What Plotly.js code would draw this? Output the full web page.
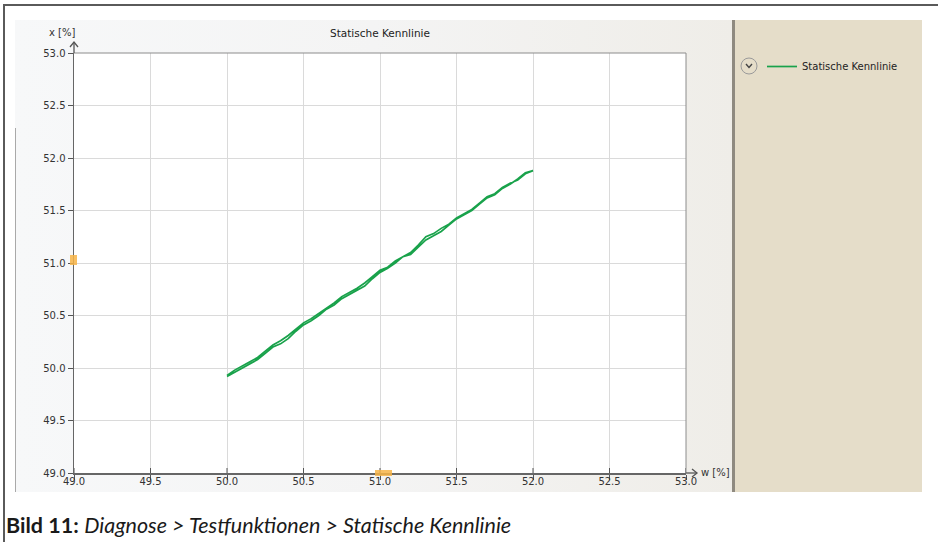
<!DOCTYPE html>
<html>
<head>
<meta charset="utf-8">
<script src="https://cdn.plot.ly/plotly-3.0.1.min.js"></script>
<style>
  html, body { margin:0; padding:0; width:938px; height:542px; overflow:hidden; background:#ffffff; }
  #frameTop { position:absolute; left:4px; top:4px; width:934px; height:2px; background:#5a5a5a; }
  #frameLeft { position:absolute; left:3px; top:4px; width:2px; height:538px; background:#5a5a5a; }
  #panel { position:absolute; left:15px; top:20px; width:718px; height:472px;
           background:linear-gradient(to right, #f7f8f9 0%, #f4f4f4 50%, #efede8 100%); }
  #panelLine { position:absolute; left:15px; top:128px; width:1px; height:364px; background:#a9a9a9; }
  #side { position:absolute; left:732px; top:20px; width:190px; height:472px; background:#e5ddc9; }
  #sideLine { position:absolute; left:732px; top:20px; width:3px; height:472px; background:#8f8a80; }
  #chart { position:absolute; left:0; top:0; width:938px; height:542px; }
</style>
</head>
<body>
<div id="frameTop"></div>
<div id="frameLeft"></div>
<div id="panel"></div>
<div id="panelLine"></div>
<div id="side"></div>
<div id="sideLine"></div>
<div id="chart"></div>
<script>
// ---- data ----
const seriesName = "Statische Kennlinie";
const wUp = [50.00,50.05,50.10,50.15,50.20,50.25,50.30,50.35,50.40,50.45,50.50,50.55,50.60,50.65,50.70,50.75,50.80,50.85,50.90,50.95,51.00,51.05,51.10,51.15,51.20,51.25,51.30,51.35,51.40,51.45,51.50,51.55,51.60,51.65,51.70,51.75,51.80,51.85,51.90,51.95,52.00];
const xUp = [49.92,49.96,50.00,50.04,50.08,50.14,50.20,50.23,50.28,50.35,50.41,50.45,50.50,50.56,50.60,50.66,50.70,50.74,50.78,50.85,50.91,50.95,51.00,51.06,51.08,51.15,51.22,51.26,51.30,51.36,51.42,51.46,51.50,51.56,51.62,51.65,51.71,51.75,51.80,51.86,51.88];
const wDown = [52.00,51.95,51.90,51.85,51.80,51.75,51.70,51.65,51.60,51.55,51.50,51.45,51.40,51.35,51.30,51.25,51.20,51.15,51.10,51.05,51.00,50.95,50.90,50.85,50.80,50.75,50.70,50.65,50.60,50.55,50.50,50.45,50.40,50.35,50.30,50.25,50.20,50.15,50.10,50.05,50.00];
const xDown = [51.88,51.85,51.79,51.76,51.72,51.66,51.63,51.57,51.51,51.47,51.43,51.37,51.33,51.28,51.25,51.17,51.10,51.06,51.02,50.96,50.93,50.87,50.81,50.76,50.72,50.68,50.62,50.57,50.52,50.47,50.43,50.37,50.31,50.26,50.22,50.16,50.10,50.06,50.02,49.98,49.93];
const tickVals = [49.0,49.5,50.0,50.5,51.0,51.5,52.0,52.5,53.0];
const tickText = ["49.0","49.5","50.0","50.5","51.0","51.5","52.0","52.5","53.0"];
const chartTitle = "Statische Kennlinie";
const xAxisLabel = "w [%]";
const yAxisLabel = "x [%]";
const caption = "<b>Bild 11:</b> <i>Diagnose &gt; Testfunktionen &gt; Statische Kennlinie</i>";

// ---- layout geometry ----
const L = 74, R = 686, T = 53, B = 473, W = 938, H = 542;
const pw = R - L, ph = B - T;
const px = v => (v - L) / pw;      // pixel x -> paper
const py = v => (B - v) / ph;      // pixel y -> paper
const green = "#19a24b";
const tickFont = {family: "DejaVu Sans", size: 10, color: "#333333"};

const trace = {
  x: wUp.concat(wDown),
  y: xUp.concat(xDown),
  type: "scatter",
  mode: "lines",
  name: seriesName,
  line: {color: green, width: 1.7},
  showlegend: true
};

const axisCommon = {
  range: [49, 53],
  tickvals: tickVals,
  ticktext: tickText,
  showgrid: true,
  gridcolor: "#dadada",
  gridwidth: 1,
  zeroline: false,
  showline: true,
  linecolor: "#666666",
  linewidth: 1.5,
  mirror: false,
  ticks: "outside",
  ticklen: 5,
  tickcolor: "#555555",
  tickfont: tickFont,
  fixedrange: true
};

const shapes = [
  // top and right border of plot area
  {type:"line", xref:"paper", yref:"paper", x0:0, x1:1, y0:1, y1:1, line:{color:"#8c8c8c", width:1}},
  {type:"line", xref:"paper", yref:"paper", x0:1, x1:1, y0:0, y1:1, line:{color:"#8c8c8c", width:1}},
  // x tick marks above the axis (ticks cross the axis in the reference)
  ...tickVals.map(v => ({type:"line", xref:"x", yref:"paper", x0:v, x1:v, y0:0, y1:5/ph, line:{color:"#555555", width:1}})),
  // y-axis arrow
  {type:"line", xref:"paper", yref:"paper", x0:0, x1:0, y0:1, y1:py(42), line:{color:"#555555", width:1.3}},
  {type:"path", xref:"paper", yref:"paper", path:`M ${px(L-4)} ${py(47)} L ${px(L)} ${py(42)} L ${px(L+4)} ${py(47)}`, line:{color:"#555555", width:1.3}},
  // x-axis arrow
  {type:"line", xref:"paper", yref:"paper", x0:1, x1:px(697), y0:0, y1:0, line:{color:"#555555", width:1.3}},
  {type:"path", xref:"paper", yref:"paper", path:`M ${px(692)} ${py(469)} L ${px(697)} ${py(473)} L ${px(692)} ${py(477)}`, line:{color:"#555555", width:1.3}},
  // orange slider markers
  {type:"rect", xref:"paper", yref:"paper", x0:px(70), x1:px(77), y0:py(265), y1:py(255), fillcolor:"rgba(247,180,70,0.85)", line:{width:0}, layer:"above"},
  {type:"rect", xref:"paper", yref:"paper", x0:px(375), x1:px(392), y0:py(476), y1:py(470), fillcolor:"rgba(247,180,70,0.85)", line:{width:0}, layer:"above"},
  // legend toggle circle
  {type:"circle", xref:"paper", yref:"paper", x0:px(741), x1:px(757), y0:py(74), y1:py(58), fillcolor:"rgba(0,0,0,0)", line:{color:"#9a9a9a", width:1}},
  {type:"path", xref:"paper", yref:"paper", path:`M ${px(746)} ${py(64)} L ${px(749)} ${py(67.5)} L ${px(752)} ${py(64)}`, line:{color:"#444444", width:1.4}}
];

const annotations = [
  {text: yAxisLabel, xref:"paper", yref:"paper", x:px(62), y:py(33), xanchor:"center", yanchor:"middle", showarrow:false, font:{family:"DejaVu Sans", size:10, color:"#333333"}},
  {text: xAxisLabel, xref:"paper", yref:"paper", x:px(699), y:py(472), xanchor:"left", yanchor:"middle", showarrow:false, font:{family:"DejaVu Sans", size:10, color:"#333333"}},
  {text: caption, xref:"paper", yref:"paper", x:px(4), y:py(525), xanchor:"left", yanchor:"middle", showarrow:false, font:{family:"Lato", size:21.5, color:"#1a1a1a"}}
];

const layout = {
  width: W, height: H,
  margin: {l: L, r: W - R, t: T, b: H - B, pad: 0},
  paper_bgcolor: "rgba(0,0,0,0)",
  plot_bgcolor: "#ffffff",
  title: {text: chartTitle, x: (L + R) / 2 / W, xanchor: "center", y: 1 - 33 / H, yanchor: "middle",
          font: {family: "DejaVu Sans", size: 10.5, color: "#222222"}},
  xaxis: Object.assign({}, axisCommon, {ticklabelstandoff: -7}),
  yaxis: Object.assign({}, axisCommon),
  showlegend: true,
  legend: {x: px(762), y: py(52), xanchor: "left", yanchor: "top", bgcolor: "rgba(0,0,0,0)",
           font: {family: "DejaVu Sans", size: 10, color: "#222222"}, itemwidth: 30},
  shapes: shapes,
  annotations: annotations
};

Plotly.newPlot("chart", [trace], layout, {staticPlot: true, displayModeBar: false});
</script>
</body>
</html>
